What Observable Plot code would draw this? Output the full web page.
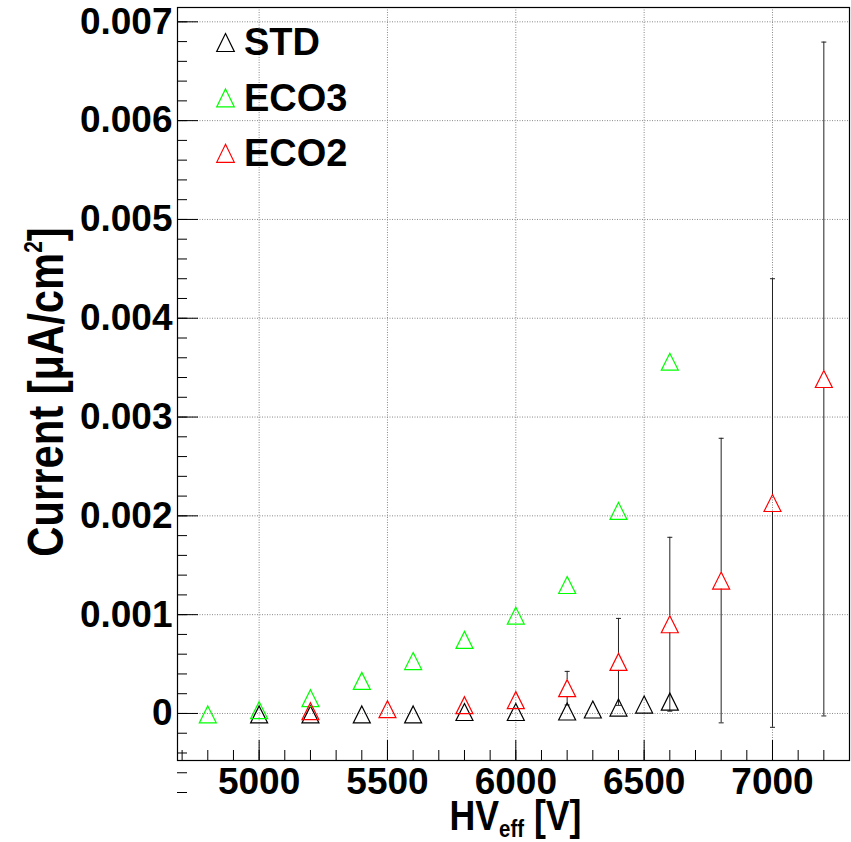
<!DOCTYPE html>
<html><head><meta charset="utf-8">
<script src="https://cdn.jsdelivr.net/npm/d3@7"></script>
<script src="https://cdn.jsdelivr.net/npm/@observablehq/plot@0.6"></script>
<style>body{margin:0;background:#fff}</style>
</head><body><div id="chart"></div>
<script>
// ---- data ----
const stdHV = [5000, 5200, 5400, 5600, 5800, 6000, 6200, 6300, 6400, 6500, 6600];
const stdI  = [-0.00001, -0.00001, -0.00001, -0.00001, 0.000015, 0.000015, 0.00002, 0.00004, 0.00006, 0.00009, 0.00012];
const stdErr = [0, 0, 0, 0, 0, 0, 0, 0, 0, 0, 0];

const eco3HV = [4800, 5000, 5200, 5400, 5600, 5800, 6000, 6200, 6400, 6600];
const eco3I  = [-0.00001, 0.000033, 0.000155, 0.00033, 0.00053, 0.000745, 0.00099, 0.0013, 0.00205, 0.00356];
const eco3Err = [0, 0, 0, 0, 0, 0, 0, 0, 0, 0];

const eco2HV = [5200, 5500, 5800, 6000, 6200, 6400, 6600, 6800, 7000, 7200];
const eco2I  = [0.000023, 0.000043, 0.000084, 0.000135, 0.000256, 0.000522, 0.000903, 0.001345, 0.00213, 0.003385];
const eco2Err = [0.00001, 0.00002, 0.00003, 0.00005, 0.00017, 0.00044, 0.00088, 0.00144, 0.00227, 0.00341];

const seriesNames  = ["STD", "ECO3", "ECO2"];
const seriesColors = ["#000000", "#00ff00", "#ff0000"];

const xMajorTicks = [5000, 5500, 6000, 6500, 7000];
const yMajorTicks = [0, 0.001, 0.002, 0.003, 0.004, 0.005, 0.006, 0.007];
const xDomain = [4682, 7300];
const yDomain = [-0.000476, 0.007145];

// ---- layout ----
const W = 851, H = 842, mL = 177, mR = 2, mT = 7, mB = 82;
const plotW = W - mL - mR, plotH = H - mT - mB;
const FONT = "'Liberation Sans', Arial, Helvetica, sans-serif";

const tri = {draw(ctx, size) { const r = Math.sqrt(size / Math.PI);
  ctx.moveTo(0, -r); ctx.lineTo(r, r); ctx.lineTo(-r, r); ctx.closePath(); }};
const capSym = {draw(ctx, size) { const r = Math.sqrt(size / Math.PI);
  ctx.moveTo(-r, 0); ctx.lineTo(r, 0); }};

const seriesData = [
  {name: seriesNames[0], color: seriesColors[0], rows: stdHV.map((x, i) => ({x, y: stdI[i], e: stdErr[i]}))},
  {name: seriesNames[1], color: seriesColors[1], rows: eco3HV.map((x, i) => ({x, y: eco3I[i], e: eco3Err[i]}))},
  {name: seriesNames[2], color: seriesColors[2], rows: eco2HV.map((x, i) => ({x, y: eco2I[i], e: eco2Err[i]}))}
];

const GAP = 8.5; // marker half-size in px; error bars are not drawn inside markers
const pxPerUnit = plotH / (yDomain[1] - yDomain[0]);
const errRows = seriesData.flatMap(s => s.rows).filter(d => d.e * pxPerUnit > GAP);

const xMinor = d3.range(4700, 7301, 100);
const yMinor = d3.range(-4, 36).map(k => k * 0.0002);

const gridStyle = {stroke: "#888", strokeWidth: 1, strokeDasharray: "1,1.5"};

const marks = [
  Plot.ruleX(xMajorTicks, {x: d => d, ...gridStyle}),
  Plot.ruleY(yMajorTicks, {y: d => d, ...gridStyle}),
  Plot.ruleX(xMinor, {x: d => d, stroke: "black", insetTop: plotH - 10}),
  Plot.ruleX(xMajorTicks, {x: d => d, stroke: "black", insetTop: plotH - 20}),
  Plot.ruleY(yMinor, {y: d => d, stroke: "black", insetRight: plotW - 10}),
  Plot.ruleY(yMajorTicks, {y: d => d, stroke: "black", insetRight: plotW - 21}),
  Plot.frame({stroke: "black", strokeWidth: 1.2}),
  // error bars (split around the marker)
  Plot.ruleX(errRows, {x: "x", y1: d => d.y + d.e, y2: "y", insetBottom: GAP, stroke: "#222", strokeWidth: 1}),
  Plot.ruleX(errRows, {x: "x", y1: "y", y2: d => d.y - d.e, insetTop: GAP, stroke: "#222", strokeWidth: 1}),
  Plot.dot(errRows, {x: "x", y: d => d.y + d.e, symbol: capSym, r: 2.5, stroke: "#222", strokeWidth: 1}),
  Plot.dot(errRows, {x: "x", y: d => d.y - d.e, symbol: capSym, r: 2.5, stroke: "#222", strokeWidth: 1}),
  ...seriesData.map(s => Plot.dot(s.rows, {x: "x", y: "y", symbol: tri, r: 8.5, stroke: s.color, fill: "none", strokeWidth: 1.2})),
  Plot.axisX(xMajorTicks, {tickSize: 0, tickPadding: 7, tickFormat: d => String(d), label: null,
    fontSize: 37, fontWeight: "bold", fontFamily: FONT, fill: "black"}),
  Plot.axisY(yMajorTicks, {tickSize: 0, tickPadding: 5, tickFormat: d => String(d), label: null,
    fontSize: 37, fontWeight: "bold", fontFamily: FONT, fill: "black"})
];

const svg = Plot.plot({
  width: W, height: H,
  marginLeft: mL, marginRight: mR, marginTop: mT, marginBottom: mB,
  x: {domain: xDomain},
  y: {domain: yDomain},
  style: {fontFamily: FONT, background: "white"},
  marks
});

const root = d3.select(svg);

// y title
const yt = root.append("text")
  .attr("transform", "translate(62.7,392) rotate(-90) scale(0.835,1)")
  .attr("text-anchor", "middle")
  .attr("font-family", FONT).attr("font-weight", "bold").attr("font-size", 50).attr("fill", "black");
yt.append("tspan").text("Current [\u03BCA/cm");
yt.append("tspan").attr("font-size", 25).attr("dy", -21).text("2");
yt.append("tspan").attr("dy", 21).text("]");

// x title
const xt = root.append("text")
  .attr("transform", "translate(515.5,829.5) scale(0.85,1)")
  .attr("text-anchor", "middle")
  .attr("font-family", FONT).attr("font-weight", "bold").attr("font-size", 42).attr("fill", "black");
xt.append("tspan").text("HV");
xt.append("tspan").attr("font-size", 24).attr("dy", 7).text("eff");
xt.append("tspan").attr("dy", -7).text(" [V]");

// legend
const lg = root.append("g");
seriesData.forEach((s, i) => {
  const cy = 42.5 + i * 55.4;
  lg.append("path")
    .attr("d", "M0,-9L8.8,9L-8.8,9Z")
    .attr("transform", `translate(225.5,${cy})`)
    .attr("fill", "none").attr("stroke", s.color).attr("stroke-width", 1.2);
  lg.append("text")
    .attr("x", 244).attr("y", cy + 12.7)
    .attr("text-anchor", "start")
    .attr("font-family", FONT).attr("font-weight", "bold").attr("font-size", 38).attr("fill", "black")
    .text(s.name);
});

document.getElementById("chart").appendChild(svg);
</script>
</body></html>
